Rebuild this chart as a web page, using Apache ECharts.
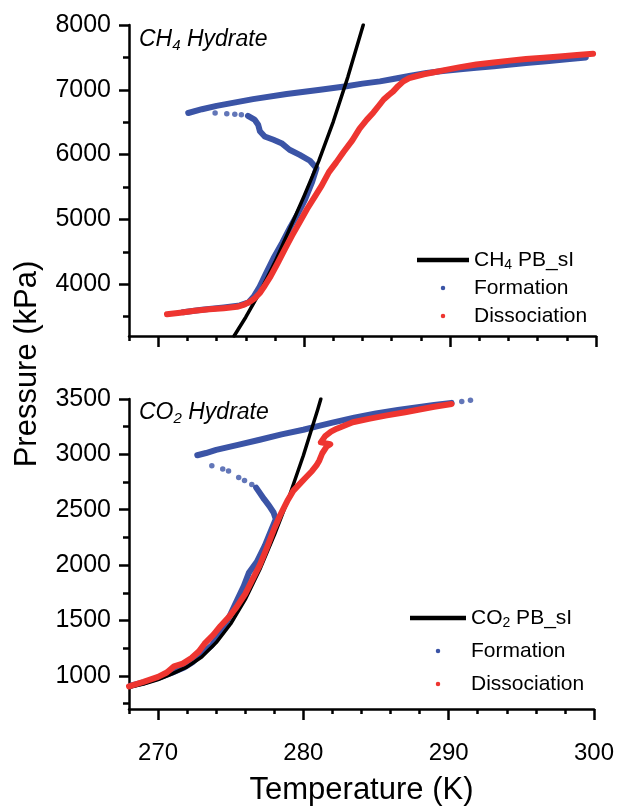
<!DOCTYPE html>
<html><head><meta charset="utf-8">
<script src="https://cdn.jsdelivr.net/npm/echarts@6/dist/echarts.min.js"></script>
<style>html,body{margin:0;padding:0;background:#fff}#c{width:617px;height:808px}</style>
</head><body><div id="c"></div>
<script>
// ---------- tick values ----------
const xTicksMajor = [270, 280, 290, 300];
const xTicksMinor = [268, 272, 274, 276, 278, 282, 284, 286, 288, 292, 294, 296, 298];
const ch4YMajor = [4000, 5000, 6000, 7000, 8000];
const ch4YMinor = [3500, 4500, 5500, 6500, 7500];
const co2YMajor = [1000, 1500, 2000, 2500, 3000, 3500];
const co2YMinor = [750, 1250, 1750, 2250, 2750, 3250];

// ---------- CH4 panel data [T (K), P (kPa)] ----------
const ch4Model = [[275.2,3200],[276,3490],[277,3890],[278,4340],[279,4850],[280,5360],[281,5900],[282,6510],[283,7200],[284.05,8000]];
const ch4FormCooling = [[299.3,7500],[298,7472],[296.6,7442],[295.2,7412],[294,7386],[293,7362],[291.8,7340],[290.7,7318],[289.5,7290],[288.4,7258],[287.2,7212],[286.1,7166],[285.2,7130],[284,7095],[282.9,7056],[281.1,7000],[278.8,6936],[276.5,6856],[274,6752],[273,6700],[272.06,6642]];
const ch4FormDots = [[273.9,6642],[274.7,6630],[275.25,6624],[275.7,6614]];
const ch4FormGrowth = [[276.15,6598],[276.6,6540],[276.85,6460],[276.97,6360],[277.3,6280],[277.9,6228],[278.45,6176],[279.0,6075],[279.7,5995],[280.4,5905],[280.85,5790],[280.55,5580],[280.05,5300],[279.55,5080],[279.05,4880],[278.5,4640],[277.9,4400],[277.4,4170],[276.95,3960],[276.55,3810],[276.2,3720],[275.6,3672],[274.5,3642],[273.0,3605],[271.7,3568]];
const ch4Dissociation = [[270.6,3535],[271.5,3560],[272.5,3590],[273.5,3612],[274.5,3630],[275.4,3650],[275.9,3685],[276.3,3730],[276.65,3790],[276.95,3860],[277.3,3975],[277.7,4120],[278.2,4330],[278.7,4550],[279.2,4760],[279.7,4960],[280.2,5160],[280.7,5340],[281.2,5520],[281.7,5730],[282.2,5880],[282.7,6040],[283.3,6220],[283.8,6400],[284.3,6540],[284.75,6650],[285.1,6750],[285.45,6850],[285.8,6920],[286.1,6975],[286.45,7060],[286.8,7130],[287.2,7180],[287.6,7205],[288.2,7240],[288.9,7270],[289.8,7312],[290.7,7350],[291.8,7390],[293.0,7422],[294.1,7450],[295.2,7474],[296.4,7495],[297.5,7515],[298.7,7537],[299.8,7557]];

// ---------- CO2 panel data [T (K), P (kPa)] ----------
const co2Model = [[268,895],[269,925],[270,965],[271,1020],[272,1080],[273,1170],[274,1300],[275,1470],[276,1690],[277,1960],[278,2270],[279,2610],[280,2990],[281,3410],[281.2,3500]];
const co2FormCooling = [[290.2,3465],[289,3445],[288,3428],[286.5,3400],[285,3370],[283.5,3332],[282,3287],[281,3255],[280,3222],[278.5,3180],[277,3132],[275.5,3085],[274,3040],[273.3,3012],[272.7,2992]];
const co2FormDots = [[291.5,3488],[290.9,3478],[273.7,2898],[274.45,2868],[274.85,2850],[275.55,2792],[275.95,2765],[276.45,2728]];
const co2FormGrowth = [[276.75,2700],[277.0,2652],[277.3,2595],[277.65,2535],[277.95,2475],[278.1,2415],[277.8,2320],[277.35,2175],[276.8,2030],[276.25,1930],[275.9,1810],[275.5,1700],[275.0,1560],[274.4,1410],[273.7,1275],[273.0,1200],[272.4,1125],[271.8,1075],[271.0,1030],[270.0,980],[269.0,940],[268.1,910]];
const co2Dissociation = [[268.0,905],[269.0,945],[270.0,990],[270.6,1030],[271.1,1085],[271.7,1110],[272.3,1160],[272.8,1220],[273.2,1290],[273.8,1370],[274.3,1450],[274.9,1535],[275.4,1620],[276.0,1740],[276.5,1870],[277.0,2000],[277.5,2160],[278.0,2330],[278.4,2450],[278.9,2580],[279.3,2670],[279.8,2740],[280.2,2795],[280.6,2850],[280.9,2900],[281.1,2945],[281.3,3010],[281.6,3070],[281.85,3092],[281.2,3108],[281.5,3165],[281.9,3205],[282.3,3232],[283.4,3290],[284.5,3320],[285.65,3350],[287.0,3380],[287.9,3403],[289.0,3430],[290.2,3455]];

// ---------- styling ----------
const FONT = "'Liberation Sans', Arial, sans-serif";
const BLUE = '#3b54a6';
const RED = '#ee3530';
const BLACK = '#000';

const chart = echarts.init(document.getElementById('c'), null, {renderer: 'canvas'});
const plain = function (v) { return String(v); };

function xMain(g) {
  return {
    type: 'value', gridIndex: g, position: 'bottom', min: 268, max: 300,
    axisLine: {show: true, onZero: false, lineStyle: {color: BLACK, width: 2.5}},
    axisTick: {show: true, inside: false, length: 11, customValues: xTicksMajor, lineStyle: {color: BLACK, width: 2.5}},
    axisLabel: {show: g === 1, customValues: xTicksMajor, formatter: plain, fontSize: 24, color: BLACK, margin: 32, fontFamily: FONT},
    splitLine: {show: false},
    name: g === 1 ? 'Temperature (K)' : '',
    nameLocation: 'middle', nameGap: 66,
    nameTextStyle: {fontSize: 31, color: BLACK, fontFamily: FONT}
  };
}
function xMinor(g) {
  return {
    type: 'value', gridIndex: g, position: 'bottom', min: 268, max: 300,
    axisLine: {show: false, onZero: false},
    axisTick: {show: true, inside: false, length: 5, customValues: xTicksMinor, lineStyle: {color: BLACK, width: 2.5}},
    axisLabel: {show: false}, splitLine: {show: false}
  };
}
function yMain(g, min, max, major) {
  return {
    type: 'value', gridIndex: g, position: 'left', min: min, max: max,
    axisLine: {show: true, onZero: false, lineStyle: {color: BLACK, width: 2.5}},
    axisTick: {show: true, inside: false, length: 10, customValues: major, lineStyle: {color: BLACK, width: 2.5}},
    axisLabel: {show: true, customValues: major, formatter: plain, fontSize: 25, color: BLACK, margin: 18, fontFamily: FONT},
    splitLine: {show: false}
  };
}
function yMinor(g, min, max, minor) {
  return {
    type: 'value', gridIndex: g, position: 'left', min: min, max: max,
    axisLine: {show: false, onZero: false},
    axisTick: {show: true, inside: false, length: 6, customValues: minor, lineStyle: {color: BLACK, width: 2.5}},
    axisLabel: {show: false}, splitLine: {show: false}
  };
}

function band(name, data, color, xi, yi, z, w) {
  return {
    type: 'line', name: name, data: data, xAxisIndex: xi, yAxisIndex: yi,
    symbol: 'none', showSymbol: false, smooth: false, clip: true,
    lineStyle: {color: color, width: w, cap: 'round', join: 'round'},
    itemStyle: {color: color}, z: z, silent: true, animation: false
  };
}
function dots(name, data, color, xi, yi, z) {
  return {
    type: 'scatter', name: name, data: data, xAxisIndex: xi, yAxisIndex: yi,
    symbol: 'circle', symbolSize: 5.5, itemStyle: {color: color},
    z: z, silent: true, animation: false
  };
}

const richLegend = {
  sub: {fontSize: 14, fontFamily: FONT, color: BLACK, padding: [10, 0, 0, 0], lineHeight: 14}
};
function legendFmt(name) {
  if (name.indexOf('CH4') === 0) return 'CH{sub|4} PB_sI';
  if (name.indexOf('CO2') === 0) return 'CO{sub|2} PB_sI';
  return name;
}
function legendData(modelName) {
  return [
    {name: modelName, icon: 'rect', itemStyle: {color: BLACK, borderWidth: 0}},
    {name: 'Formation', icon: 'circle', itemStyle: {color: BLUE, borderWidth: 0}},
    {name: 'Dissociation', icon: 'circle', itemStyle: {color: RED, borderWidth: 0}}
  ];
}

const option = {
  backgroundColor: '#fff',
  animation: false,
  grid: [
    {left: 129, right: 21, top: 25, height: 311, containLabel: false},
    {left: 129, right: 21, top: 399, height: 310, containLabel: false}
  ],
  xAxis: [xMain(0), xMinor(0), xMain(1), xMinor(1)],
  yAxis: [
    yMain(0, 3200, 8000, ch4YMajor), yMinor(0, 3200, 8000, ch4YMinor),
    yMain(1, 700, 3500, co2YMajor), yMinor(1, 700, 3500, co2YMinor)
  ],
  legend: [
    {
      orient: 'vertical', left: 417, top: 248, padding: 0, itemWidth: 52, itemHeight: 4.5, itemGap: 4,
      selectedMode: false, formatter: legendFmt,
      textStyle: {fontSize: 21, color: BLACK, fontFamily: FONT, lineHeight: 24, rich: richLegend},
      data: legendData('CH4 PB_sI')
    },
    {
      orient: 'vertical', left: 410, top: 606, padding: 0, itemWidth: 56, itemHeight: 4.5, itemGap: 9,
      selectedMode: false, formatter: legendFmt,
      textStyle: {fontSize: 21, color: BLACK, fontFamily: FONT, lineHeight: 24, rich: richLegend},
      data: legendData('CO2 PB_sI')
    }
  ],
  graphic: [
    {
      type: 'text', left: 139, top: 27, silent: true,
      style: {
        text: '{i|CH}{s|4}{i| Hydrate}',
        rich: {
          i: {fontSize: 23, fontStyle: 'italic', fontFamily: FONT, fill: BLACK, lineHeight: 26},
          s: {fontSize: 15, fontStyle: 'italic', fontFamily: FONT, fill: BLACK, lineHeight: 15, padding: [11, 0, 0, 0]}
        }
      }
    },
    {
      type: 'text', left: 139, top: 400, silent: true,
      style: {
        text: '{i|CO}{s|2}{i| Hydrate}',
        rich: {
          i: {fontSize: 23, fontStyle: 'italic', fontFamily: FONT, fill: BLACK, lineHeight: 26},
          s: {fontSize: 15, fontStyle: 'italic', fontFamily: FONT, fill: BLACK, lineHeight: 15, padding: [11, 0, 0, 0]}
        }
      }
    },
    {
      type: 'text', x: 27, y: 364, rotation: Math.PI / 2, silent: true,
      style: {text: 'Pressure (kPa)', fontSize: 31, fontFamily: FONT, fill: BLACK, align: 'center', verticalAlign: 'middle'}
    }
  ],
  series: [
    band('Formation', ch4FormCooling, BLUE, 0, 0, 2, 6),
    band('Formation', ch4FormGrowth, BLUE, 0, 0, 2, 6),
    dots('Formation', ch4FormDots, BLUE, 0, 0, 2),
    band('CH4 PB_sI', ch4Model, BLACK, 0, 0, 3, 3.5),
    band('Dissociation', ch4Dissociation, RED, 0, 0, 4, 6),

    band('Formation', co2FormCooling, BLUE, 2, 2, 2, 6),
    band('Formation', co2FormGrowth, BLUE, 2, 2, 2, 6),
    dots('Formation', co2FormDots, BLUE, 2, 2, 2),
    band('CO2 PB_sI', co2Model, BLACK, 2, 2, 3, 3.5),
    band('Dissociation', co2Dissociation, RED, 2, 2, 4, 6)
  ]
};
chart.setOption(option);
</script>
</body></html>
